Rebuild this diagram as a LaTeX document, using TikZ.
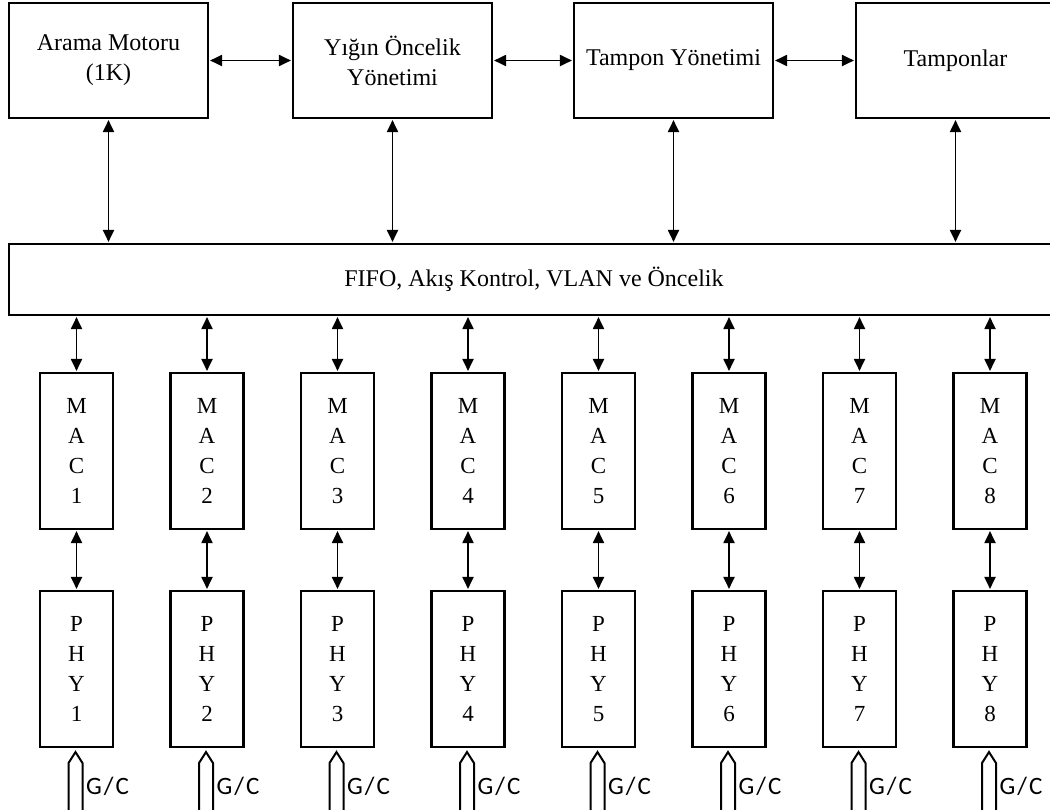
\documentclass[tikz,border=0pt]{standalone}
\usepackage{fontspec}
\setmainfont{Liberation Serif}
\newfontfamily\gcfont{Carlito}
\usetikzlibrary{arrows.meta,calc}
\begin{document}
\begin{tikzpicture}[x=1pt,y=-1pt,
  box/.style={draw, line width=2.1pt, inner sep=0pt, align=center,
    font=\fontsize{24}{30}\selectfont},
  topbox/.style={box, minimum width=199pt, minimum height=115pt},
  port/.style={box, minimum width=73pt, minimum height=156pt,
    font=\fontsize{23}{30}\selectfont},
  link/.style={line width=1.9pt,
    {Triangle[length=12pt,width=11pt]}-{Triangle[length=12pt,width=11pt]},
    shorten <=1pt, shorten >=1pt},
  gcarrow/.style={draw, line width=2pt, line join=miter},
  gclabel/.style={inner sep=0pt, font=\gcfont\fontsize{25}{25}\selectfont}
]
\useasboundingbox (0,0) rectangle (1050,809);

% management blocks along the top
\node[topbox] (eng) at (108.5,60.5) {Arama Motoru\\(1K)};
\node[topbox] (stk) at (392.5,60.5) {Yığın Öncelik\\Yönetimi};
\node[topbox] (bmg) at (673.5,60.5) {Tampon Yönetimi};
\node[topbox] (buf) at (955.5,60.5) {Tamponlar};

% shared queueing bar
\node[box, minimum width=1050pt, minimum height=71pt] (fifo) at (534,279.5)
  {FIFO, Akış Kontrol, VLAN ve Öncelik};

% links between the top blocks
\draw[link] (eng.east) -- (stk.west);
\draw[link] (stk.east) -- (bmg.west);
\draw[link] (bmg.east) -- (buf.west);

% links from the top blocks down to the bar
\foreach \n in {eng,stk,bmg,buf}
  \draw[link] (\n.south) -- (\n.south |- fifo.north);

% eight ports: MAC over PHY, with the G/C input below
\foreach \i in {1,...,8} {
  \pgfmathsetmacro\cx{76.5+130.5*(\i-1)}
  \node[port] (mac\i) at (\cx,451) {M\\A\\C\\\i};
  \node[port] (phy\i) at (\cx,669) {P\\H\\Y\\\i};
  \draw[link] (mac\i.north |- fifo.south) -- (mac\i.north);
  \draw[link] (mac\i.south) -- (phy\i.north);
  \coordinate (in\i) at ($(phy\i.south)+(-1,4)$);
  \draw[gcarrow] ($(in\i)+(-7,61)$) -- ($(in\i)+(-7,11)$) -- (in\i)
    -- ($(in\i)+(7,11)$) -- ($(in\i)+(7,61)$);
  \node[gclabel, anchor=base west] (gc\i) at ($(phy\i.south)+(9.5,46)$)
    {G\kern2pt/\kern2pt C};
}
\end{tikzpicture}
\end{document}
